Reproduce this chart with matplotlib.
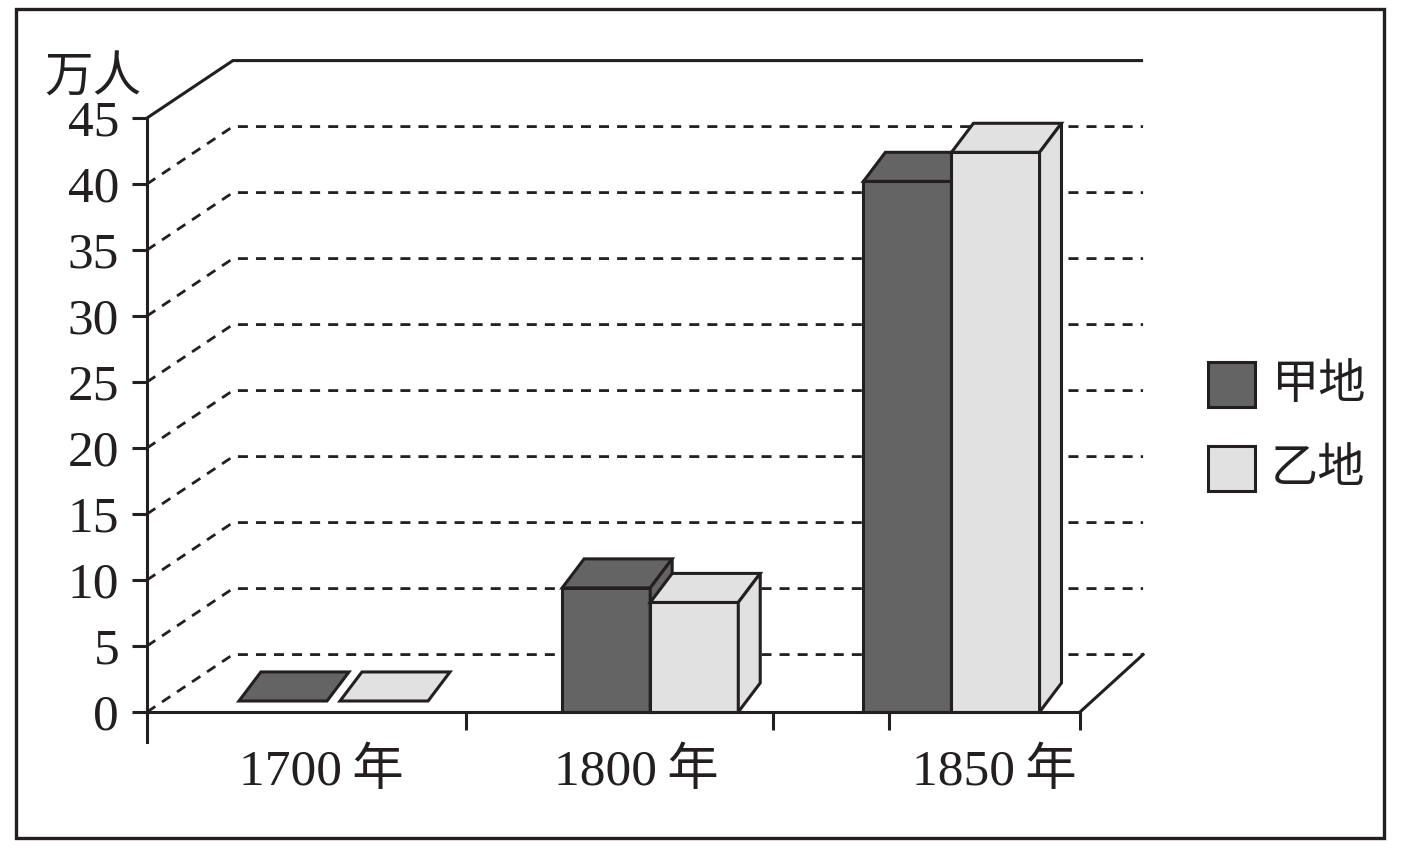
import matplotlib
matplotlib.use("Agg")
import matplotlib.pyplot as plt
from matplotlib.patches import Rectangle, Polygon

# ma'lumotlar
nianfen = ["1700年", "1800年", "1850年"]
jia_di = [0, 9.4, 40.2]
yi_di = [0, 8.3, 42.4]
diqu = ["甲地", "乙地"]
y_ticks = [0, 5, 10, 15, 20, 25, 30, 35, 40, 45]
danwei = "万人"

# ko'rinish
ranglar = ["#646464", "#e1e1e1"]
qora = "#231f20"
W = 0.285                     # bar width
gap = [0.042, 0, 0]           # gap between the two bars per group
shift = [0, 0.025, 0]         # small group offsets
label_x = [-0.04, 0.98, 2.14]
xtick_pos = [0.429, 1.422, 1.798, 2.4159]
DX, DY = 0.278, 4.35          # back wall offset
BDX, BDY = 0.071, 2.2         # bar depth
X0, X1 = -0.6036, 2.4159
XBACK = 2.62
PX_Y = 594 / 45               # pixels per unit
serif = ["Liberation Serif", "Noto Sans CJK SC"]
cjk = ["Noto Sans CJK SC", "DejaVu Sans"]

fig = plt.figure(figsize=(14.02, 8.52), dpi=100)
ax = fig.add_axes([147 / 1402, 1 - 712 / 852, 933 / 1402, 594 / 852])
ax.set_xlim(X0, X1)
ax.set_ylim(0, 45)

# orqa devor
for v in y_ticks:
    xs = [X0, X0 + DX, XBACK]
    ys = [v, v + DY, v + DY]
    if v == 45:
        ax.plot(xs, ys, color=qora, lw=2.2, clip_on=False, zorder=1,
                solid_capstyle="butt")
    else:
        ax.plot(xs, ys, color=qora, lw=2.0, clip_on=False, zorder=1,
                dashes=(3.6, 2.9))
ax.plot([X1, XBACK], [0, DY], color=qora, lw=2.2, clip_on=False, zorder=1)
ax.plot([X0, X0], [0, -30 / PX_Y], color=qora, lw=2.2, clip_on=False, zorder=1)


def ustun(left, v, rang):
    kw = dict(facecolor=rang, edgecolor=qora, lw=2.2, joinstyle="miter",
              clip_on=False, zorder=3)
    if v == 0:
        b = 11 / PX_Y
        ax.add_patch(Polygon([(left, b), (left + W, b),
                              (left + W + BDX, b + BDY), (left + BDX, b + BDY)], **kw))
        return
    ax.add_patch(Rectangle((left, 0), W, v, **kw))
    ax.add_patch(Polygon([(left, v), (left + W, v),
                          (left + W + BDX, v + BDY), (left + BDX, v + BDY)], **kw))
    ax.add_patch(Polygon([(left + W, 0), (left + W + BDX, BDY),
                          (left + W + BDX, v + BDY), (left + W, v)], **kw))


for i in range(len(nianfen)):
    c = i + shift[i]
    ustun(c - W - gap[i] / 2, jia_di[i], ranglar[0])
    ustun(c + gap[i] / 2, yi_di[i], ranglar[1])

# o'qlar
for s in ["top", "right"]:
    ax.spines[s].set_visible(False)
for s in ["left", "bottom"]:
    ax.spines[s].set_linewidth(2.2)
    ax.spines[s].set_color(qora)
    ax.spines[s].set_zorder(4)

ax.set_yticks(y_ticks)
ax.set_yticklabels([str(t) for t in y_ticks], fontsize=37, family=serif)
ax.tick_params(axis="y", length=11, width=2.2, color=qora, pad=9,
               labelcolor=qora)
ax.set_xticks(xtick_pos)
ax.set_xticklabels([])
ax.tick_params(axis="x", length=13, width=2.2, color=qora)

for i, nom in enumerate(nianfen):
    ax.text(label_x[i], -73 / PX_Y, nom[:-1] + "\u2009" + nom[-1],
            ha="center", va="baseline", fontsize=37, family=serif, color=qora)

fig.text(44 / 1402, 1 - 92 / 852, danwei, ha="left", va="baseline",
         fontsize=35, family=cjk, color=qora)

# legend
leg_y = [362, 446]
for k, nom in enumerate(diqu):
    fig.add_artist(Rectangle((1208 / 1402, 1 - (leg_y[k] + 45) / 852),
                             47 / 1402, 45 / 852, transform=fig.transFigure,
                             facecolor=ranglar[k], edgecolor=qora, lw=2.2))
    fig.text(1271 / 1402, 1 - (leg_y[k] + 23) / 852, nom, ha="left",
             va="center", fontsize=34, family=cjk, color=qora)

# ramka
fig.add_artist(Rectangle((16 / 1402, 1 - 838 / 852), 1368 / 1402, 829 / 852,
                         transform=fig.transFigure, fill=False,
                         edgecolor=qora, lw=2.4))

plt.savefig("out.png", dpi=100)
plt.close()
